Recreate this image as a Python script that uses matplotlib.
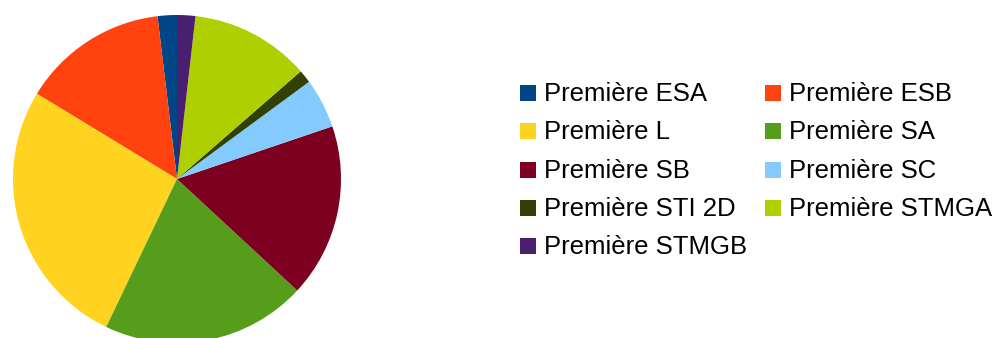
import matplotlib
matplotlib.use("Agg")
import matplotlib.pyplot as plt
from matplotlib.patches import Rectangle

labels = ["Première ESA", "Première ESB", "Première L", "Première SA", "Première SB",
          "Première SC", "Première STI 2D", "Première STMGA", "Première STMGB"]
values = [1.9, 14.4, 26.6, 20.2, 17.1, 4.9, 1.3, 11.8, 1.8]
colors = ["#004586", "#ff420e", "#ffd320", "#579d1c", "#7e0021",
          "#83caff", "#314004", "#aecf00", "#4b1f6f"]

W, H = 994, 338
fig = plt.figure(figsize=(W / 100, H / 100), dpi=100)
ax = fig.add_axes([0, 0, 1, 1])

ax.pie(values, colors=colors, startangle=90, counterclock=True,
       center=(177, H - 179), radius=164,
       wedgeprops=dict(linewidth=0, antialiased=True), frame=True)
ax.set_xlim(0, W)
ax.set_ylim(0, H)
ax.set_aspect("equal")
ax.axis("off")

# legend, row-wise in two columns
col_x = [520, 765]
row0 = 85
row_step = 38.3
sq = 16
for i, (lab, col) in enumerate(zip(labels, colors)):
    r, c = divmod(i, 2)
    top = row0 + r * row_step
    ax.add_patch(Rectangle((col_x[c], H - top - sq), sq, sq, facecolor=col,
                           edgecolor="none", clip_on=False))
    ax.text(col_x[c] + 24, H - (top + 16), lab, fontsize=18.5,
            family=["Liberation Sans", "DejaVu Sans"], color="#000000",
            va="baseline", ha="left")

fig.savefig("out.png", dpi=100, facecolor="white")
